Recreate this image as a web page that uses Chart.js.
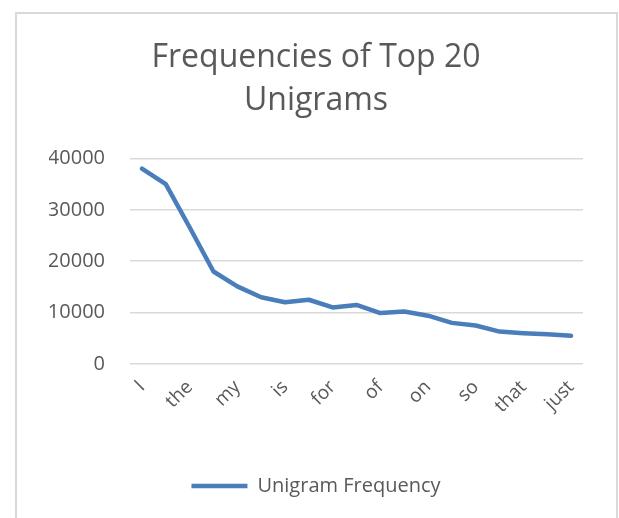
<!DOCTYPE html>
<html>
<head>
<meta charset="utf-8">
<script src="https://cdn.jsdelivr.net/npm/chart.js@4/dist/chart.umd.min.js"></script>
<style>
    html, body { margin: 0; padding: 0; background: #ffffff; }
    #wrap { position: relative; width: 619px; height: 518px; overflow: hidden; }
    #frame {
        position: absolute; left: 15px; top: 12px; width: 603px; height: 540px;
        box-sizing: border-box; border: 2px solid #d9d9d9; pointer-events: none;
    }
    canvas { position: absolute; left: 0; top: 0; }
</style>
</head>
<body>
<div id="wrap">
    <canvas id="unigramGraph" width="619" height="518"></canvas>
    <div id="frame"></div>
</div>
<script>
// chart data
const unigramLabels = ["I", "to", "the", "and", "my", "a", "is", "it", "for", "in",
    "of", "me", "on", "you", "so", "was", "that", "be", "just"];
const unigramCounts = [38000, 35000, 26600, 18000, 15100, 13000, 12000, 12500, 11000, 11500,
    9900, 10200, 9400, 8000, 7500, 6300, 6000, 5800, 5500];
const yTicks = [0, 10000, 20000, 30000, 40000];

const textColor = "#595959";
const gridColor = "#d9d9d9";
const lineColor = "#4a7ebb";
const fontFamily = "'Open Sans', sans-serif";

// function to create the unigram frequency line graph
function create_unigram_graph() {
    var config = {
        type: "line",
        data: {
            labels: unigramLabels,
            datasets: [{
                label: "Unigram Frequency",
                data: unigramCounts,
                borderColor: lineColor,
                backgroundColor: lineColor,
                borderWidth: 4.5,
                borderCapStyle: "round",
                borderJoinStyle: "round",
                pointRadius: 0,
                pointHoverRadius: 0,
                tension: 0,
                fill: false
            }]
        },
        options: {
            responsive: false,
            animation: false,
            layout: { padding: { left: 49, right: 36, top: 14, bottom: 12 } },
            plugins: {
                title: {
                    display: true,
                    text: ["Frequencies of Top 20", "Unigrams"],
                    color: textColor,
                    font: { family: fontFamily, size: 32, weight: "normal", lineHeight: 1.35 },
                    padding: { top: 22, bottom: 36 }
                },
                legend: {
                    position: "bottom",
                    labels: {
                        color: textColor,
                        font: { family: fontFamily, size: 20 },
                        usePointStyle: true,
                        pointStyle: "line",
                        pointStyleWidth: 56,
                        padding: 12
                    }
                },
                tooltip: { enabled: false }
            },
            scales: {
                x: {
                    offset: true,
                    border: { display: false },
                    grid: { display: false },
                    ticks: {
                        autoSkip: false,
                        minRotation: 45,
                        maxRotation: 45,
                        padding: 4,
                        color: textColor,
                        font: { family: fontFamily, size: 19 },
                        callback: (val, idx) => idx % 2 === 0 ? unigramLabels[idx] : ""
                    },
                    afterFit: (scale) => {
                        scale.height = 100;
                        scale.paddingLeft = 0;
                        scale.paddingRight = 0;
                    }
                },
                y: {
                    min: 0,
                    max: 40000,
                    border: { display: false },
                    grid: { color: gridColor, lineWidth: 1.5, drawTicks: false },
                    afterBuildTicks: (scale) => { scale.ticks = yTicks.map(v => ({ value: v })); },
                    afterFit: (scale) => { scale.width = 81; },
                    ticks: {
                        padding: 25,
                        color: textColor,
                        font: { family: fontFamily, size: 20 },
                        callback: (val) => String(val)
                    }
                }
            }
        }
    };
    new Chart("unigramGraph", config);
}

create_unigram_graph();
</script>
</body>
</html>
